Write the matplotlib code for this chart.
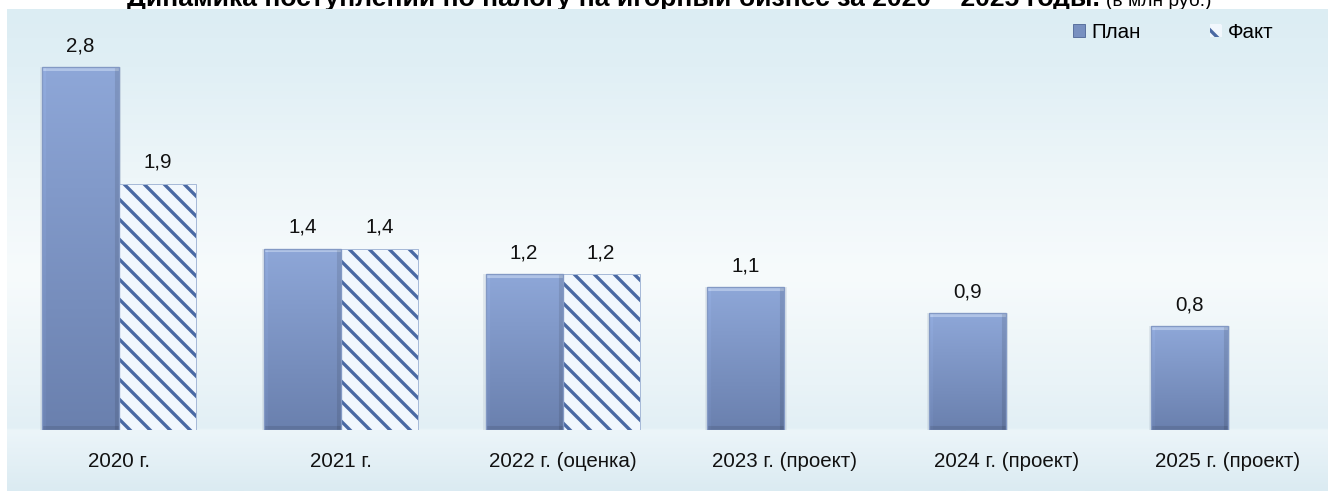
import matplotlib
matplotlib.use("Agg")
import matplotlib.pyplot as plt
import numpy as np
from matplotlib.patches import Rectangle

# Поступления по налогу на игорный бизнес, млн руб.
categories = ["2020 г.", "2021 г.", "2022 г. (оценка)",
              "2023 г. (проект)", "2024 г. (проект)", "2025 г. (проект)"]
plan = [2.8, 1.4, 1.2, 1.1, 0.9, 0.8]
fact = [1.9, 1.4, 1.2]

title_bold = "Динамика поступлений по налогу на игорный бизнес за 2020 – 2025 годы."
title_unit = "(в млн руб.)"
legend_labels = ["План", "Факт"]

# ------------------------------
# Общие настройки
# ------------------------------
W, H, DPI = 1328, 493, 120
FONT = ["Liberation Sans", "DejaVu Sans"]
plt.rcParams["font.family"] = FONT
plt.rcParams["hatch.linewidth"] = 2.0

PLAN_TOP = np.array([142, 167, 216]) / 255
PLAN_BOTTOM = np.array([106, 128, 174]) / 255
HATCH_COLOR = "#4A69A3"
FACT_FACE = "#F1F7FD"
TEXT_SIZE = 12.3


def px(x, y):
    """Пиксели (от левого верхнего угла) -> доли фигуры."""
    return x / W, 1 - y / H


def background_gradient(n=400):
    """Вертикальный градиент фона области диаграммы."""
    stops = [0.0, 0.12, 0.35, 0.55, 0.78, 0.87, 0.875, 1.0]
    cols = np.array([
        [220, 237, 243], [224, 239, 245], [238, 246, 249], [247, 251, 252],
        [233, 243, 247], [226, 239, 245], [236, 245, 249], [219, 235, 242],
    ]) / 255
    t = np.linspace(0, 1, n)
    rgb = np.stack([np.interp(t, stops, cols[:, k]) for k in range(3)], axis=-1)
    return rgb[:, None, :]


def bar_texture(w_px, h_px, bevel=4):
    """Заливка столбца: вертикальный градиент и скошенные края."""
    w_px, h_px = max(int(w_px), 2), max(int(h_px), 2)
    t = np.linspace(0, 1, h_px)[:, None, None]
    img = PLAN_TOP + (PLAN_BOTTOM - PLAN_TOP) * t
    img = np.repeat(img, w_px, axis=1)
    img[:bevel] = img[:bevel] * 0.55 + 0.45 * np.array([0.86, 0.91, 0.98])
    img[:, :bevel] *= 1.03
    img[:, -bevel:] *= 0.9
    img[-bevel:] *= 0.9
    return np.clip(img, 0, 1)


fig = plt.figure(figsize=(W / DPI, H / DPI), dpi=DPI, facecolor="white")

# ------------------------------
# Фон области диаграммы
# ------------------------------
x0, y_top = px(7, 9)
x1, y_bot = px(1328, 491)
bg = fig.add_axes([x0, y_bot, x1 - x0, y_top - y_bot], zorder=0)
bg.imshow(background_gradient(), aspect="auto", extent=[0, 1, 0, 1],
          interpolation="bilinear")
bg.set_axis_off()

# Заголовок (нижний край закрыт областью диаграммы)
renderer = fig.canvas.get_renderer()
tx, ty = px(127, 6)
t1 = fig.text(tx, ty, title_bold, ha="left", va="baseline", fontsize=15.9,
              fontweight="bold", zorder=-1)
bb = t1.get_window_extent(renderer)
fig.text((bb.x1 + 6) / W, ty, title_unit, ha="left", va="baseline",
         fontsize=11.5, zorder=-1)

# ------------------------------
# Основные оси
# ------------------------------
ax_l, ax_t = px(7, 9)
ax_r, ax_b = px(1328, 430)
ax = fig.add_axes([ax_l, ax_b, ax_r - ax_l, ax_t - ax_b], zorder=1)
ax.patch.set_alpha(0)

x = np.arange(len(categories))
width = 0.347
xlim = (-0.505, len(categories) - 1 + 0.451)
ylim = (0, 3.248)

# Столбцы «План» с градиентной заливкой
plan_x = x - width / 2
bars = ax.bar(plan_x, plan, width, color="none", edgecolor="#8399C4",
              linewidth=0.8, zorder=3)
ax_w_px = (ax_r - ax_l) * W
ax_h_px = (ax_t - ax_b) * H
for bar, xc, v in zip(bars, plan_x, plan):
    w_px = width / (xlim[1] - xlim[0]) * ax_w_px
    h_px = v / (ylim[1] - ylim[0]) * ax_h_px
    im = ax.imshow(bar_texture(w_px, h_px), extent=[xc - width / 2, xc + width / 2, 0, v],
                   aspect="auto", interpolation="bilinear", zorder=2)
    im.set_clip_path(bar)
    # мягкая тень вокруг столбца
    ax.bar(xc, v, width * 1.06, color="#BCC8D3", alpha=0.35,
           linewidth=0, zorder=1.5)

# Столбцы «Факт» со штриховкой
fact_x = x[:len(fact)] + width / 2
ax.bar(fact_x, fact, width * 1.03, color="#BCC8D3", alpha=0.35,
       linewidth=0, zorder=1.5)
ax.bar(fact_x, fact, width, facecolor=FACT_FACE, edgecolor=HATCH_COLOR,
       hatch="\\\\", linewidth=0, zorder=2)
ax.bar(fact_x, fact, width, facecolor="none", edgecolor="#A7BAD8",
       linewidth=0.6, zorder=2.5)

# Подписи значений
for xs, vals in ((plan_x, plan), (fact_x, fact)):
    for xv, v in zip(xs, vals):
        ax.annotate(f"{v:.1f}".replace(".", ","), (xv, v), xytext=(0, 9.6),
                    textcoords="offset points", ha="center", va="baseline",
                    fontsize=TEXT_SIZE, color="#111111")

ax.set_xlim(*xlim)
ax.set_ylim(*ylim)
ax.set_xticks(x)
ax.set_xticklabels(categories, fontsize=TEXT_SIZE, color="#111111")
ax.tick_params(axis="x", length=0, pad=13)
ax.set_yticks([])
for s in ax.spines.values():
    s.set_visible(False)

# ------------------------------
# Легенда
# ------------------------------
handles = [
    Rectangle((0, 0), 1, 1, facecolor="#7890C0", edgecolor="#5C73A0", linewidth=0.6),
    Rectangle((0, 0), 1, 1, facecolor=FACT_FACE, edgecolor=HATCH_COLOR,
              hatch="\\\\", linewidth=0),
]
lx, ly = px(1073, 32)
fig.legend(handles, legend_labels, loc="center left", bbox_to_anchor=(lx, ly),
           ncol=2, frameon=False, fontsize=TEXT_SIZE, borderpad=0,
           borderaxespad=0, handlelength=0.58, handleheight=0.58,
           handletextpad=0.3, columnspacing=3.4)

fig.savefig("out.png", dpi=DPI, facecolor="white")
